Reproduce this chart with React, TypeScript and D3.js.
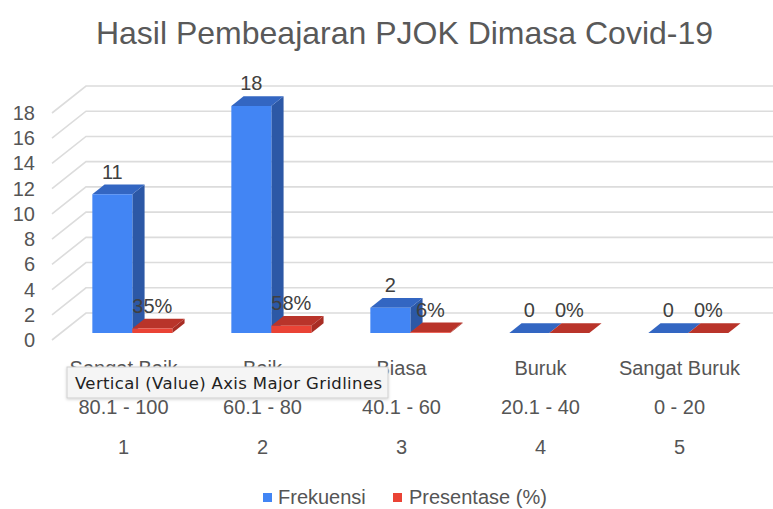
import React from "react";
import * as d3 from "d3";

const categories = ["Sangat Baik", "Baik", "Biasa", "Buruk", "Sangat Buruk"];
const ranges = ["80.1 - 100", "60.1 - 80", "40.1 - 60", "20.1 - 40", "0 - 20"];
const indices = ["1", "2", "3", "4", "5"];
const frekuensi = [11, 18, 2, 0, 0];
const presentase = [0.35, 0.58, 0.06, 0, 0];
const presentaseLabels = ["35%", "58%", "6%", "0%", "0%"];
const yTicks = [0, 2, 4, 6, 8, 10, 12, 14, 16, 18];

const W = 773;
const H = 509;
const FONT = "'Liberation Sans', Arial, Helvetica, sans-serif";

// 3d depth of the floor (front plane -> back wall)
const depth = { x: 34, y: -27 };
const f0 = 0.26; // bar front
const f1 = 0.62; // bar back

const seriesColors = [
  { front: "#4285f4", side: "#2c58a6", top: "#3366c2" },
  { front: "#ea4335", side: "#a82d24", top: "#b9342a" },
];

const y = d3.scaleLinear().domain([0, 18]).range([340, 113]);
const x = d3.scaleBand().domain(indices).range([54, 749]).padding(0);

const P = (xf: number, v: number, f: number): [number, number] => [
  xf + f * depth.x,
  y(v) + f * depth.y,
];
const pts = (arr: [number, number][]) => arr.map((p) => p.join(",")).join(" ");

export default function App() {
  const wallX = 52;
  const barW = 40;

  const bars: any[] = [];
  const labels: any[] = [];
  indices.forEach((idx, i) => {
    const c = (x(idx) as number) + x.bandwidth() / 2;
    const vals = [frekuensi[i], presentase[i]];
    const texts = [String(frekuensi[i]), presentaseLabels[i]];
    vals.forEach((v, s) => {
      const x0 = c - barW + s * barW;
      const x1 = x0 + barW;
      const col = seriesColors[s];
      bars.push(
        <g key={`b${i}-${s}`}>
          <polygon
            points={pts([P(x1, 0, f0), P(x1, v, f0), P(x1, v, f1), P(x1, 0, f1)])}
            fill={col.side}
          />
          <polygon
            points={pts([P(x0, v, f0), P(x1, v, f0), P(x1, v, f1), P(x0, v, f1)])}
            fill={col.top}
          />
          <polygon
            points={pts([P(x0, 0, f0), P(x0, v, f0), P(x1, v, f0), P(x1, 0, f0)])}
            fill={col.front}
          />
        </g>
      );
      const [lx] = P((x0 + x1) / 2, v, f0);
      const [, ly] = P(x0, v, f1);
      labels.push(
        <text
          key={`l${i}-${s}`}
          x={lx}
          y={ly - 6}
          textAnchor="middle"
          fontSize={20}
          fill="#404040"
        >
          {texts[s]}
        </text>
      );
    });
  });

  return (
    <svg
      width={W}
      height={H}
      style={{ position: "absolute", left: 0, top: 0, background: "#fff" }}
      fontFamily={FONT}
    >
      <text x={404.5} y={44} textAnchor="middle" fontSize={32} fill="#595959">
        Hasil Pembeajaran PJOK Dimasa Covid-19
      </text>

      {/* gridlines: side wall diagonals + back wall */}
      {yTicks.map((t) => {
        const a = P(wallX, t, 0);
        const b = P(wallX, t, 1);
        return (
          <polyline
            key={`g${t}`}
            points={pts([a, b, [W, b[1]]])}
            fill="none"
            stroke="#dcdcdc"
            strokeWidth={1.6}
          />
        );
      })}

      {yTicks.map((t) => (
        <text
          key={`t${t}`}
          x={35}
          y={y(t) + 7}
          textAnchor="end"
          fontSize={20}
          fill="#555"
        >
          {t}
        </text>
      ))}

      {bars}
      {labels}

      {indices.map((idx, i) => {
        const c = (x(idx) as number) + x.bandwidth() / 2;
        return (
          <g key={`x${i}`} fontSize={20} fill="#555" textAnchor="middle">
            <text x={c} y={375}>{categories[i]}</text>
            <text x={c} y={414}>{ranges[i]}</text>
            <text x={c} y={454}>{indices[i]}</text>
          </g>
        );
      })}

      {/* hover tooltip */}
      <defs>
        <filter id="sh" x="-5%" y="-20%" width="110%" height="160%">
          <feDropShadow dx="0" dy="1" stdDeviation="1.5" floodColor="#000" floodOpacity="0.18" />
        </filter>
      </defs>
      <rect x={67} y={367} width={321} height={31} fill="#f5f5f5" stroke="#cfcfcf" strokeWidth={1} filter="url(#sh)" />
      <text x={75} y={389} fontSize={16.5} fill="#222" textLength={307} fontFamily="'DejaVu Sans', sans-serif">
        Vertical (Value) Axis Major Gridlines
      </text>

      {/* legend */}
      <rect x={263} y={493} width={9} height={9} fill={seriesColors[0].front} />
      <text x={278} y={504} fontSize={20} fill="#555">Frekuensi</text>
      <rect x={393} y={493} width={9} height={9} fill={seriesColors[1].front} />
      <text x={409} y={504} fontSize={20} fill="#555">Presentase (%)</text>
    </svg>
  );
}
